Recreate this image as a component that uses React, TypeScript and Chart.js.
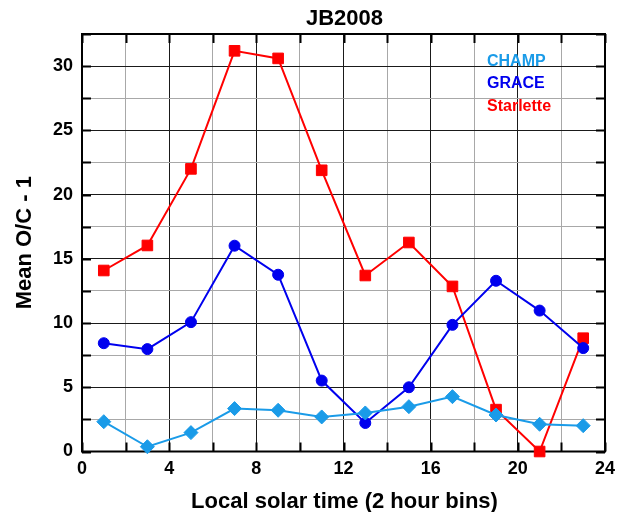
import { useEffect, useRef } from 'react';
import { Chart, registerables } from 'chart.js';

Chart.register(...registerables);

// Local solar time bin centres (hours)
const hours = [1, 3, 5, 7, 9, 11, 13, 15, 17, 19, 21, 23];

// Mean O/C - 1 per satellite
const champ = [2.32, 0.37, 1.47, 3.34, 3.21, 2.69, 3.0, 3.49, 4.27, 2.84, 2.12, 2.01];
const grace = [8.43, 7.97, 10.07, 16.02, 13.76, 5.52, 2.22, 5.0, 9.86, 13.29, 10.97, 8.05];
const starlette = [14.09, 16.04, 22.0, 31.19, 30.6, 21.89, 13.7, 16.27, 12.85, 3.26, 0.0, 8.82];

const seriesNames = ['CHAMP', 'GRACE', 'Starlette'];
const seriesColors = ['#1a9be8', '#0000ee', '#ff0000'];

const chartTitle = 'JB2008';
const xTitle = 'Local solar time (2 hour bins)';
const yTitle = 'Mean O/C - 1';

const FONT = '"Liberation Sans", Arial, sans-serif';
const GRID_DARK = '#1a1a1a';
const GRID_LIGHT = '#a8a8a8';

const toPoints = (ys: number[]) => hours.map((h, i) => ({ x: h, y: ys[i] }));

// Frame, inward ticks and free text (title, axis titles, legend labels)
const decorPlugin = {
  id: 'decor',
  beforeDatasetsDraw(chart: any) {
    const { ctx, chartArea: a, scales } = chart;
    ctx.save();
    ctx.strokeStyle = '#000';
    ctx.lineWidth = 2;
    ctx.strokeRect(a.left, a.top, a.right - a.left, a.bottom - a.top);
    const len = 9;
    ctx.beginPath();
    scales.x.ticks.forEach((t: any) => {
      const px = Math.round(scales.x.getPixelForValue(t.value)) + 0.5;
      ctx.moveTo(px, a.bottom);
      ctx.lineTo(px, a.bottom - len);
      ctx.moveTo(px, a.top);
      ctx.lineTo(px, a.top + len);
    });
    scales.y.ticks.forEach((t: any) => {
      const py = Math.round(scales.y.getPixelForValue(t.value)) + 0.5;
      ctx.moveTo(a.left, py);
      ctx.lineTo(a.left + len, py);
      ctx.moveTo(a.right, py);
      ctx.lineTo(a.right - len, py);
    });
    ctx.stroke();
    ctx.restore();
  },
  afterDraw(chart: any) {
    const { ctx, chartArea: a } = chart;
    const cx = (a.left + a.right) / 2;
    ctx.save();
    ctx.fillStyle = '#000';
    ctx.textBaseline = 'alphabetic';

    ctx.font = `bold 22px ${FONT}`;
    ctx.textAlign = 'center';
    ctx.fillText(chartTitle, cx + 1, 25);
    ctx.fillText(xTitle, cx + 1, 508);

    ctx.save();
    ctx.translate(31, (a.top + a.bottom) / 2);
    ctx.rotate(-Math.PI / 2);
    ctx.fillText(yTitle, 0, 0);
    ctx.restore();

    ctx.font = `bold 16px ${FONT}`;
    ctx.textAlign = 'left';
    seriesNames.forEach((name, i) => {
      ctx.fillStyle = seriesColors[i];
      ctx.fillText(name, 487, 66 + i * 22.3);
    });
    ctx.restore();
  },
};

export default function App() {
  const canvasRef = useRef<HTMLCanvasElement>(null);

  useEffect(() => {
    const canvas = canvasRef.current;
    if (!canvas) return;
    const tickFont = { family: FONT, size: 18, weight: 'bold' as const };
    const chart = new Chart(canvas, {
      type: 'line',
      data: {
        datasets: [
          {
            label: seriesNames[0],
            data: toPoints(champ),
            borderColor: seriesColors[0],
            backgroundColor: seriesColors[0],
            pointStyle: 'rectRot',
            pointRadius: 7,
            pointBorderWidth: 1,
            pointBorderColor: seriesColors[0],
            borderWidth: 2,
            clip: false as any,
          },
          {
            label: seriesNames[1],
            data: toPoints(grace),
            borderColor: seriesColors[1],
            backgroundColor: seriesColors[1],
            pointStyle: 'circle',
            pointRadius: 5.5,
            pointBorderWidth: 1,
            borderWidth: 2,
            clip: false as any,
          },
          {
            label: seriesNames[2],
            data: toPoints(starlette),
            borderColor: seriesColors[2],
            backgroundColor: seriesColors[2],
            pointStyle: 'rect',
            pointRadius: 7.5,
            pointBorderWidth: 1,
            borderWidth: 2,
            clip: false as any,
          },
        ],
      },
      options: {
        animation: false,
        responsive: false,
        layout: { padding: { top: 34, right: 26, left: 0, bottom: 0 } },
        plugins: {
          legend: { display: false },
          title: { display: false },
          tooltip: { enabled: false },
        },
        scales: {
          x: {
            type: 'linear',
            min: 0,
            max: 24,
            afterFit: (s: any) => {
              s.height = 60.5;
            },
            ticks: {
              stepSize: 2,
              padding: 7,
              color: '#000',
              font: tickFont,
              maxRotation: 0,
              autoSkip: false,
              callback: (v: any) => (Number(v) % 4 === 0 ? String(v) : ''),
            },
            grid: {
              drawTicks: false,
              lineWidth: 1,
              color: (c: any) => (c.tick && c.tick.value % 4 === 0 ? GRID_DARK : GRID_LIGHT),
            },
            border: { display: false },
          },
          y: {
            type: 'linear',
            min: 0,
            max: 32.5,
            afterFit: (s: any) => {
              s.width = 82;
            },
            ticks: {
              stepSize: 2.5,
              padding: 9,
              color: '#000',
              font: tickFont,
              autoSkip: false,
              callback: (v: any) => (Number(v) % 5 === 0 ? String(v) : ''),
            },
            grid: {
              drawTicks: false,
              lineWidth: 1,
              color: (c: any) => (c.tick && c.tick.value % 5 === 0 ? GRID_DARK : GRID_LIGHT),
            },
            border: { display: false },
          },
        },
      },
      plugins: [decorPlugin],
    });
    return () => chart.destroy();
  }, []);

  return (
    <div style={{ position: 'fixed', left: 0, top: 0, width: 631, height: 512, background: '#fff' }}>
      <canvas ref={canvasRef} width={631} height={512} style={{ display: 'block' }} />
    </div>
  );
}
